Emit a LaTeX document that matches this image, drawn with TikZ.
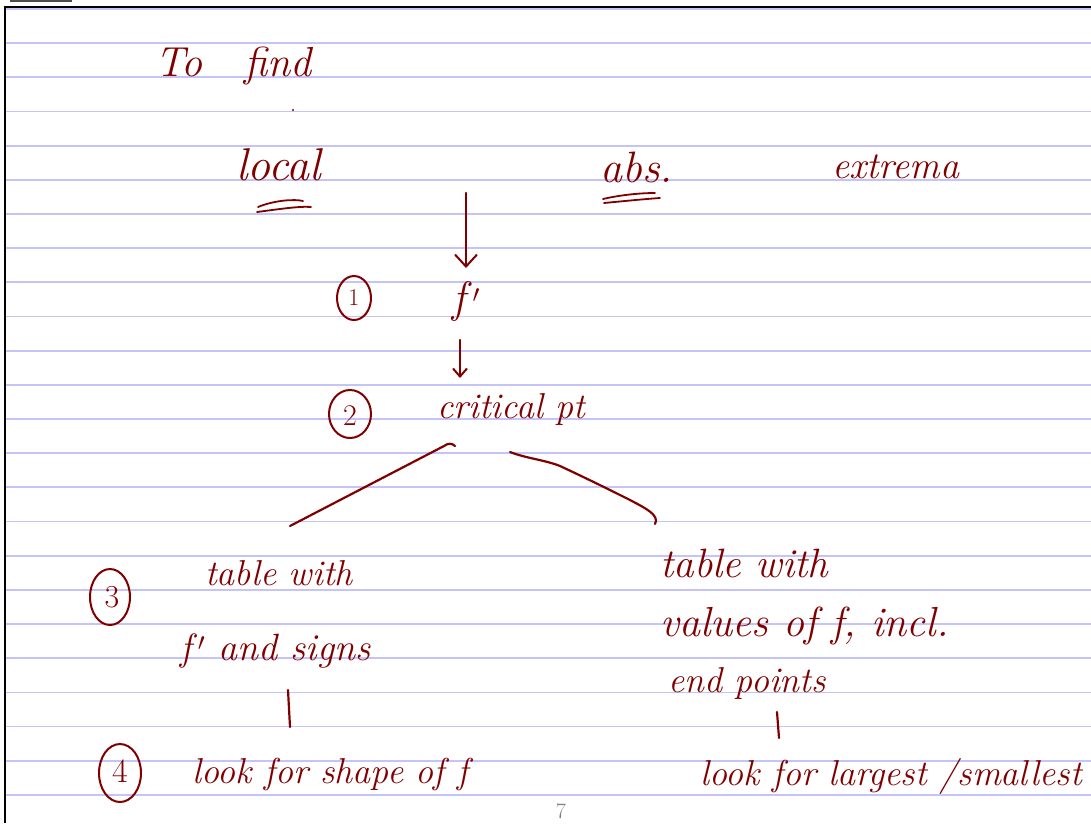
\documentclass[tikz,border=0pt]{standalone}
\usetikzlibrary{arrows.meta}
\definecolor{ink}{RGB}{128,0,0}
\definecolor{rule}{RGB}{196,196,248}
\tikzset{
  hw/.style={ink, font=\itshape\fontsize{#1}{#1}\selectfont, inner sep=0pt, anchor=base west},
  hw/.default=36,
  stroke/.style={ink, line width=2.2pt, line cap=round, line join=round},
  numcirc/.style={ink, line width=2pt},
  numtxt/.style={ink, font=\fontsize{#1}{#1}\selectfont, inner sep=0pt},
  ruling/.style={rule, line width=1.8pt}
}
\begin{document}
\begin{tikzpicture}[x=1pt,y=-1pt]
\useasboundingbox (0,0) rectangle (1091,823);
\fill[white] (0,0) rectangle (1091,823);
% ruled lines
\foreach \i in {0,...,23} {
  \draw[ruling] (6,{9+\i*34.17}) -- (1091,{9+\i*34.17});
}
% page border
\fill[black!70] (10,0) rectangle (72,1.5);
\draw[black, line width=1.6pt] (5,823) -- (5,7) -- (1091,7);
% texts
\node[hw=42] (tofind) at (155,76) {To\hspace{42pt}find};
\fill[ink] (293,110) circle (1.2);
\node[hw=46] (local) at (236,180) {local};
\node[hw=44] (abs) at (600,182) {abs.};
\node[hw=38] (extrema) at (832,178) {extrema};
\node[hw=44] (fp) at (452,312) {f\,$'$};
\node[hw=36] (crit) at (437,418) {critical pt};
\node[hw=36] (tabL) at (205,585) {table with};
\node[hw=38] (sign) at (180,660) {f\,$'$ and signs};
\node[hw=36] (shape) at (192,783) {look for shape of f};
\node[hw=41] (tabR) at (660,577) {table with};
\node[hw=42] (vals) at (660,636) {values of f, incl.};
\node[hw=36] (endp) at (668,692) {end points};
\node[hw=36] (large) at (700,785) {look for largest /smallest};
\node[gray, font=\fontsize{22}{22}\selectfont, anchor=base] (pg) at (561,818) {7};
% numbered circles
\draw[numcirc] (354,298) ellipse (17 and 22);
\node[numtxt=24] (n1) at (354,298) {1};
\draw[numcirc] (350,414) ellipse (21 and 24);
\node[numtxt=30] (n2) at (350,416) {2};
\draw[numcirc] (110,597) ellipse (20 and 28);
\node[numtxt=32] (n3) at (112,597) {3};
\draw[numcirc] (120,773) ellipse (21 and 29);
\node[numtxt=34] (n4) at (120,771) {4};
% underlines
\draw[stroke, line width=1.8pt] (258,207) .. controls (275,200) and (295,199) .. (303,201);
\draw[stroke, line width=1.8pt] (257,212) .. controls (280,209) and (300,206) .. (311,207);
\draw[stroke, line width=1.8pt] (603,199) .. controls (620,195) and (640,193) .. (655,193);
\draw[stroke, line width=1.8pt] (604,203) .. controls (625,201) and (645,199) .. (660,198);
% connectors
\coordinate (a1s) at (466,193);
\coordinate (a1e) at (466,268);
\draw[stroke, -{Straight Barb[length=12pt, width=22pt, line width=2pt]}] (a1s) -- (a1e);
\coordinate (a2s) at (460,340);
\coordinate (a2e) at (460,378);
\draw[stroke, -{Straight Barb[length=8pt, width=14pt, line width=2pt]}] (a2s) -- (a2e);
\coordinate (bL1) at (455,446);
\coordinate (bL2) at (290,526);
\draw[stroke] (bL1) .. controls (452,443) and (448,443) .. (444,446) -- (bL2);
\coordinate (bR1) at (510,452);
\coordinate (bR2) at (655,524);
\draw[stroke] (bR1) .. controls (525,458) and (545,460) .. (560,466)
  .. controls (590,480) and (610,490) .. (630,500)
  .. controls (645,508) and (660,515) .. (bR2);
\coordinate (tL1) at (288,690);
\coordinate (tL2) at (290,727);
\draw[stroke] (tL1) -- (tL2);
\coordinate (tR1) at (777,712);
\coordinate (tR2) at (779,738);
\draw[stroke] (tR1) -- (tR2);
\end{tikzpicture}
\end{document}
